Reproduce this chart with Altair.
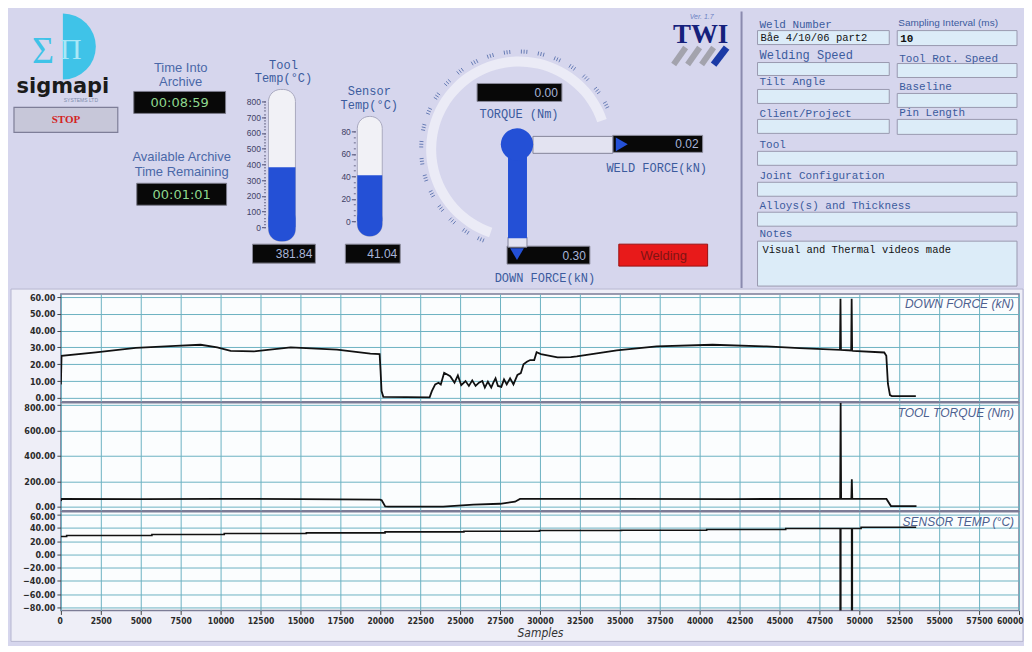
import math
import altair as alt
import pandas as pd

# ---------------- strip-chart data (samples, value) ----------------
DOWN_FORCE_PTS = [
    (0, 8), (40, 25), (2190, 27.1), (4690, 29.7), (7190, 31), (8750, 31.6), (9790, 30),
    (10630, 28), (12090, 27.7), (14390, 30), (17290, 28.7), (19380, 26.3), (19960, 26),
    (20020, 15.9), (20080, 4), (20190, 0.6), (23090, 0.3), (23230, 4), (23440, 8),
    (23650, 9), (23790, 8), (24000, 14.9), (24380, 12.9), (24650, 9), (24860, 13.3),
    (25070, 7.5), (25340, 10), (25550, 7.1), (25760, 10.4), (25970, 7.1), (26180, 9),
    (26390, 10), (26550, 6.1), (26740, 9.6), (26950, 6.1), (27080, 9), (27220, 11.6),
    (27370, 7.1), (27580, 6.5), (27750, 11), (27920, 8), (28130, 11.6), (28340, 8),
    (28590, 13.7), (28800, 14.7), (28970, 20), (29180, 21.5), (29390, 22.5), (29640, 22.5),
    (29790, 27.2), (30060, 26), (31100, 24.1), (31930, 24.3), (32310, 24.7), (34810, 28.2),
    (37310, 30.6), (40810, 31.6), (44190, 30.6), (46250, 29.6), (48790, 28.6), (48820, 59),
    (48850, 28.6), (49490, 28.2), (49520, 59), (49550, 28.2), (49590, 28), (51560, 27),
    (51690, 25), (51790, 8.4), (51920, 1.6), (52040, 1), (53540, 1),
]
TORQUE_PTS = [
    (0, 45), (50, 62), (5000, 60), (10000, 62), (15000, 60), (19990, 55), (20090, 50),
    (20310, 2), (20500, 0), (23940, 0), (25830, 16), (27500, 23), (28440, 39), (28750, 61),
    (35000, 62), (42000, 60), (48800, 61), (48830, 816), (48860, 61), (49500, 61),
    (49530, 216), (49560, 61), (51700, 61), (51980, 5), (53580, 5),
]
SENSOR_PTS = [
    (0, 27), (360, 28.5), (5700, 30), (10230, 31.5), (15370, 32.5), (20300, 34),
    (25240, 35), (29970, 36), (35110, 36.5), (40440, 37.5), (45390, 39), (48800, -84),
    (48840, 39), (49520, -84), (49560, 39), (50110, 41), (53560, 41),
]
SERIES_LABELS = ["DOWN FORCE (kN)", "TOOL TORQUE (Nm)", "SENSOR TEMP (\u00b0C)"]
X_TICKS = list(range(0, 60001, 2500))
DF_TICKS = [0, 10, 20, 30, 40, 50, 60]
TQ_TICKS = [0, 200, 400, 600, 800]
ST_TICKS = [-80, -60, -40, -20, 0, 20, 40, 60]

# ---------------- front-panel readouts ----------------
TIME_INTO_ARCHIVE = "00:08:59"
TIME_REMAINING = "00:01:01"
TOOL_TEMP = 381.84
SENSOR_TEMP = 41.04
TORQUE_NOW = 0.00
WELD_FORCE_NOW = 0.02
DOWN_FORCE_NOW = 0.30
TOOL_TICKS = [0, 100, 200, 300, 400, 500, 600, 700, 800]
SENSOR_TICKS = [0, 20, 40, 60, 80]
WELD_NUMBER = "B\u00e5e 4/10/06 part2"
SAMPLING_INTERVAL = "10"
NOTES = "Visual and Thermal videos made"

# ---------------- styles ----------------
BG = "#d6d6ed"
SECTION = "#eeeef7"
PLOT_BG = "#fbfdfe"
GRID = "#6cb2c2"
BLUE = "#2450d6"
UI_BLUE = "#3b5b9d"
FIELD = "#dcecf8"
LABEL_FONT = "Liberation Sans Narrow, DejaVu Sans Condensed, Liberation Sans, sans-serif"
MONO = "Liberation Mono, DejaVu Sans Mono, monospace"
SANS = "Liberation Sans, Arial, sans-serif"
SERIF = "Liberation Serif, DejaVu Serif, serif"

W = 960
TOP_H = 284
XP = alt.Scale(domain=[60, 1020], nice=False, zero=False)
YP = alt.Scale(domain=[8 + TOP_H, 8], nice=False, zero=False)


def X(f="x"):
    return alt.X(f"{f}:Q", scale=XP, axis=None)


def Y(f="y"):
    return alt.Y(f"{f}:Q", scale=YP, axis=None)


def rects(rows, **kw):
    df = pd.DataFrame(rows, columns=["x", "x2", "y", "y2", "f"])
    return alt.Chart(df).mark_rect(**kw).encode(
        x=X(), x2="x2:Q", y=Y(), y2="y2:Q", fill=alt.Fill("f:N", scale=None))


def rules(rows, **kw):
    df = pd.DataFrame(rows, columns=["x", "y", "x2", "y2"])
    return alt.Chart(df).mark_rule(**kw).encode(x=X(), y=Y(), x2="x2:Q", y2="y2:Q")


def texts(rows, **kw):
    df = pd.DataFrame(rows, columns=["x", "y", "t"])
    kw.setdefault("baseline", "middle")
    return alt.Chart(df).mark_text(**kw).encode(x=X(), y=Y(), text="t:N")


layers = []
# page and chart-section backgrounds
layers.append(rects([(8, 1024, 8, 644, BG)]))
layers.append(rects([(10, 1024, 288, 641, SECTION)], stroke="#b6b6d0", strokeWidth=1))
layers.append(rules([(742, 10, 742, 287)], color="#8a8aae", strokeWidth=2))

# logo
layers.append(alt.Chart(pd.DataFrame({"x": [62], "y": [45]})).mark_arc(
    radius=33, theta=0, theta2=3.1416, color="#3fc3e8").encode(x=X(), y=Y()))
layers.append(texts([(42, 50, "\u03a3")], font=SERIF, fontSize=38, color="#3fc3e8"))
layers.append(texts([(70, 48, "\u03a0")], font=SERIF, fontSize=30, color="#a9e7f7"))
layers.append(texts([(62, 86, "sigmapi")], font="DejaVu Sans", fontSize=21, fontWeight="bold", color="#1b1b1b"))
layers.append(texts([(80, 99, "SYSTEMS   LTD")], font=SANS, fontSize=5, color="#7d8cab"))
# stop button
layers.append(rects([(13, 117, 106, 131, "#c7c7d9")], stroke="#7e7e98", strokeWidth=1.2))
layers.append(texts([(65, 118.5, "STOP")], font=SERIF, fontSize=11, fontWeight="bold", color="#d42222"))

# archive timers
layers.append(texts([(180, 66, "Time Into"), (180, 81, "Archive"),
                     (181, 156, "Available Archive"), (181, 171, "Time Remaining")],
                    font=SANS, fontSize=13, color="#4a68a8"))
layers.append(rects([(133, 225, 90, 112, "#080808"), (136, 226, 182, 204, "#080808")],
                    stroke="#7a7a8a", strokeWidth=1))
layers.append(texts([(179, 101.5, TIME_INTO_ARCHIVE), (181, 193.5, TIME_REMAINING)],
                    font="DejaVu Sans", fontSize=13, color="#8fd88f"))

# thermometer captions
layers.append(texts([(283, 63, "Tool"), (283, 77, "Temp(\u00b0C)"),
                     (369, 90, "Sensor"), (369, 104, "Temp(\u00b0C)")],
                    font=MONO, fontSize=12, color=UI_BLUE))
# thermometer tubes and bulbs
layers.append(rects([(268, 295, 88, 240, "#f1f1f6"), (357, 382, 115, 235, "#f1f1f6")],
                    cornerRadius=12, stroke="#a9a9bf", strokeWidth=1))
layers.append(rects([(268, 295, 205, 240, BLUE), (357, 382, 205, 235, BLUE)], cornerRadius=12))


def thermo(value, x1, x2, scale, ticks, minor_step, axis_x):
    df = pd.DataFrame({"v": [value], "x": [x1], "x2": [x2]})
    main = alt.Chart(df).mark_rect(color=BLUE).encode(
        x=X(), x2="x2:Q",
        y=alt.Y("v:Q", scale=scale, axis=alt.Axis(
            orient="left", offset=-(axis_x - 60), values=ticks, domain=False, grid=False,
            tickSize=4, tickColor="#4b4b70", labelFont=SANS, labelFontSize=8.5,
            labelColor="#3f3f66", labelPadding=1, title=None, zindex=2)),
        y2=alt.datum(0))
    minor = alt.Chart(df).mark_rect(opacity=0).encode(
        x=X(), x2="x2:Q",
        y=alt.Y("v:Q", scale=scale, axis=alt.Axis(
            orient="left", offset=-(axis_x - 60),
            values=list(range(ticks[0], ticks[-1] + 1, minor_step)), domain=False,
            grid=False, tickSize=2, tickColor="#6a6a8a", labels=False, title=None, zindex=2)),
        y2=alt.datum(0))
    return [main, minor]


layers += thermo(TOOL_TEMP, 268, 295,
                 alt.Scale(domain=[0, 800], range=[218, 92], nice=False, zero=False),
                 TOOL_TICKS, 20, 265)
layers += thermo(SENSOR_TEMP, 357, 382,
                 alt.Scale(domain=[0, 80], range=[212, 122], nice=False, zero=False),
                 SENSOR_TICKS, 5, 355)

# readout boxes
BOXES = [(252, 315, 243, 262, "#080808"), (345, 400, 243, 262, "#080808"),
         (477, 562, 82, 100, "#080808"), (613, 703, 134, 151, "#080808"),
         (507, 590, 245, 263, "#080808")]
layers.append(rects(BOXES, stroke="#8a8a9a", strokeWidth=1))
layers.append(texts([(312, 253, f"{TOOL_TEMP:.2f}"), (397, 253, f"{SENSOR_TEMP:.2f}"),
                     (558, 91.5, f"{TORQUE_NOW:.2f}"), (699, 143, f"{WELD_FORCE_NOW:.2f}"),
                     (586, 254.5, f"{DOWN_FORCE_NOW:.2f}")],
                    font=SANS, fontSize=12, color="#a9b5d9", align="right"))

# torque gauge
layers.append(alt.Chart(pd.DataFrame({"x": [519], "y": [148]})).mark_arc(
    radius=93, radius2=83, theta=3.47, theta2=7.52, color="#ebebf6").encode(x=X(), y=Y()))
gauge_ticks = []
for k in range(23):
    for d in (-1.6, 0.0, 1.6):
        a = math.radians(203 + k * 10 + d)
        gauge_ticks.append((519 + 96 * math.sin(a), 148 - 96 * math.cos(a),
                            519 + 100 * math.sin(a), 148 - 100 * math.cos(a)))
layers.append(rules(gauge_ticks, color="#4a64a6", strokeWidth=0.8))

# force indicator
layers.append(rects([(533, 613, 135, 152, "#e3e3f1"), (508, 527, 236, 246, "#e3e3f1")],
                    stroke="#85859a", strokeWidth=1))
layers.append(rects([(508, 527, 153, 237, BLUE)]))
layers.append(alt.Chart(pd.DataFrame({"x": [517], "y": [143]})).mark_circle(
    size=1050, color=BLUE, opacity=1).encode(x=X(), y=Y()))
layers.append(alt.Chart(pd.DataFrame({"x": [622], "y": [143]})).mark_point(
    shape="triangle-right", size=190, filled=True, color=BLUE, opacity=1).encode(x=X(), y=Y()))
layers.append(alt.Chart(pd.DataFrame({"x": [517], "y": [253]})).mark_point(
    shape="triangle-down", size=190, filled=True, color=BLUE, opacity=1).encode(x=X(), y=Y()))
layers.append(texts([(519, 113, "TORQUE (Nm)"), (657, 167, "WELD FORCE(kN)"),
                     (545, 277, "DOWN FORCE(kN)")],
                    font=MONO, fontSize=12, color=UI_BLUE))
# welding indicator
layers.append(rects([(619, 708, 243, 265, "#e81a1a")], stroke="#9a1010", strokeWidth=1))
layers.append(texts([(664, 254.5, "Welding")], font=SANS, fontSize=13, color="#7e1414"))

# TWI logo
layers.append(texts([(702, 15, "Ver. 1.7")], font=SANS, fontSize=7, fontStyle="italic", color="#6b82c4"))
layers.append(texts([(701, 33, "TWI")], font=SERIF, fontSize=27, fontWeight="bold", color="#15217c"))
layers.append(rules([(674, 63, 686, 46), (688, 63, 700, 46), (702, 63, 714, 46)],
                    color="#a3a3ad", strokeWidth=6))
layers.append(rules([(714, 63, 727, 46)], color="#1b3aa6", strokeWidth=7))

# weld information panel
FIELDS = [(758, 890, 29, 43), (898, 1018, 29, 44), (758, 890, 61, 74), (898, 1018, 62, 76),
          (758, 890, 88, 102), (898, 1018, 92, 106), (758, 890, 118, 132), (898, 1018, 118, 133),
          (758, 1018, 150, 164), (758, 1018, 181, 195), (758, 1018, 211, 225), (758, 1018, 240, 285)]
layers.append(rects([f + (FIELD,) for f in FIELDS], stroke="#9a9ab0", strokeWidth=1))
layers.append(texts([(760, 23, "Weld Number"), (760, 81, "Tilt Angle"),
                     (760, 113, "Client/Project"), (900, 57, "Tool Rot. Speed"),
                     (900, 86, "Baseline"), (900, 112, "Pin Length"), (760, 144, "Tool"),
                     (760, 175, "Joint Configuration"), (760, 205, "Alloys(s) and Thickness"),
                     (760, 233, "Notes")],
                    font=MONO, fontSize=11, color=UI_BLUE, align="left"))
layers.append(texts([(760, 53, "Welding Speed")], font=MONO, fontSize=12, color=UI_BLUE, align="left"))
layers.append(texts([(899, 21, "Sampling Interval (ms)")], font=SANS, fontSize=10, color=UI_BLUE, align="left"))
layers.append(texts([(761, 36, WELD_NUMBER), (763, 249, NOTES)],
                    font=MONO, fontSize=10.5, color="#111111", align="left"))
layers.append(texts([(901, 37, SAMPLING_INTERVAL)], font=MONO, fontSize=11, fontWeight="bold",
                    color="#111111", align="left"))

top = alt.layer(*layers).resolve_scale(y="independent").properties(
    width=W, height=TOP_H, view=alt.ViewBackground(stroke="transparent"))

# ---------------- strip charts ----------------
XS = alt.Scale(domain=[0, 60000], nice=False, zero=False)


def strip(points, ydom, yticks, label, h, bottom=False, interp="linear", sw=1.8, top_shift=0):
    df = pd.DataFrame(points, columns=["s", "v"])
    if bottom:
        xaxis = alt.Axis(values=X_TICKS, format="d", grid=True, gridColor=GRID, gridWidth=1,
                         domain=False, tickSize=4, tickColor="#444", labelFont=LABEL_FONT,
                         labelFontWeight="bold", labelFontSize=8.5, labelColor="#2a2a2a",
                         labelPadding=2, labelFlush=True, labelFlushOffset=4,
                         labelOverlap=False, title="Samples",
                         titleFont=LABEL_FONT, titleFontStyle="italic", titleFontWeight="normal",
                         titleFontSize=12, titleColor="#333333", titlePadding=3)
    else:
        xaxis = alt.Axis(values=X_TICKS, grid=True, gridColor=GRID, gridWidth=1, domain=False,
                         ticks=False, labels=False, title=None)
    yaxis = alt.Axis(values=yticks, format=".2f", grid=True, gridColor=GRID, gridWidth=1,
                     domain=False, tickSize=4, tickColor="#444", labelFont=LABEL_FONT,
                     labelFontWeight="bold", labelFontSize=9, labelColor="#2a2a2a",
                     labelPadding=2, labelOverlap=False, title=None,
                     labelOffset=alt.condition(f"datum.value == {yticks[-1]}",
                                               alt.value(top_shift), alt.value(0)))
    line = alt.Chart(df).mark_line(color="#111111", strokeWidth=sw, interpolate=interp,
                                   clip=True).encode(
        x=alt.X("s:Q", scale=XS, axis=xaxis),
        y=alt.Y("v:Q", scale=alt.Scale(domain=ydom, nice=False, zero=False), axis=yaxis))
    lab = alt.Chart(pd.DataFrame({"t": [label]})).mark_text(
        align="right", baseline="middle", font=SANS, fontSize=12, fontStyle="italic",
        color="#4d5f8f").encode(x=alt.value(W - 5), y=alt.value(10), text="t:N")
    return alt.layer(line, lab).properties(
        width=W, height=h,
        view=alt.ViewBackground(fill=PLOT_BG, stroke="#7c7c96", strokeWidth=1.5))


c1 = strip(DOWN_FORCE_PTS, [-2.4, 61.8], DF_TICKS, SERIES_LABELS[0], 108)
c2 = strip(TORQUE_PTS, [-31, 816], TQ_TICKS, SERIES_LABELS[1], 108, top_shift=3)
c3 = strip(SENSOR_PTS, [-84.5, 64.5], ST_TICKS, SERIES_LABELS[2], 99, bottom=True,
           interp="step-after", sw=1.6, top_shift=2)

chart = alt.vconcat(top, c1, c2, c3, spacing=1, bounds="flush").properties(
    padding=0).configure(background=BG).configure_view(stroke="transparent")

chart.save("out.html", embed_options={"renderer": "svg", "actions": False})
